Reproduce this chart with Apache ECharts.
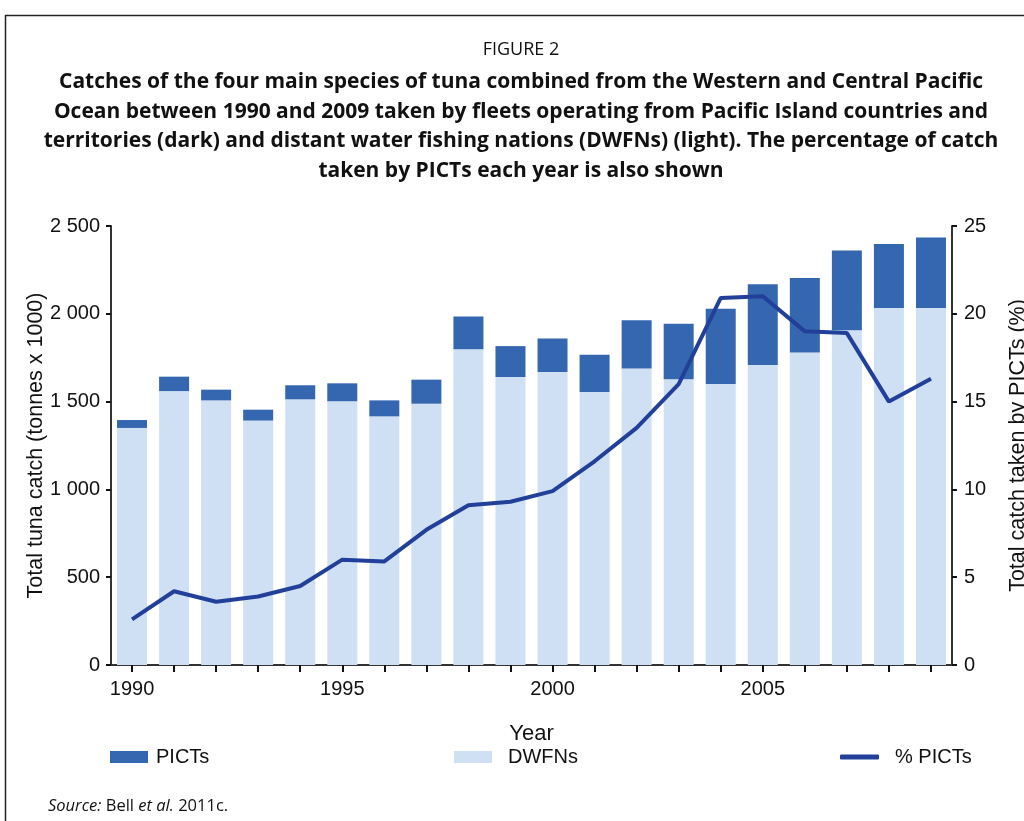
<!DOCTYPE html>
<html>
<head>
<meta charset="utf-8">
<script src="https://cdn.jsdelivr.net/npm/echarts@6/dist/echarts.min.js"></script>
<style>html,body{margin:0;padding:0;background:#fff}#c{width:1024px;height:821px}</style>
</head>
<body>
<div id="c"></div>
<script>
var years = ['1990','1991','1992','1993','1994','1995','1996','1997','1998','1999','2000','2001','2002','2003','2004','2005','2006','2007','2008','2009'];
var dwfns = [1350,1560,1507,1392,1513,1502,1416,1488,1798,1640,1668,1554,1688,1627,1600,1708,1779,1906,2033,2033];
var picts = [45,82,61,62,80,102,91,137,187,176,192,213,275,317,429,460,425,455,364,401];
var pctPicts = [2.6,4.2,3.6,3.9,4.5,6.0,5.9,7.7,9.1,9.3,9.9,11.6,13.5,16.0,20.9,21.0,19.0,18.9,15.0,16.3];
var leftTicks = ['0','500','1 000','1 500','2 000','2 500'];
var titleLines = [
  'Catches of the four main species of tuna combined from the Western and Central Pacific',
  'Ocean between 1990 and 2009 taken by fleets operating from Pacific Island countries and',
  'territories (dark) and distant water fishing nations (DWFNs) (light). The percentage of catch',
  'taken by PICTs each year is also shown'
];

var DARK = '#3567B0', LIGHT = '#CFE0F4', LINE = '#22409A', AX = '#333';
var SANS = '"Liberation Sans", Arial, sans-serif';
var TFONT = '"Open Sans", Lato, sans-serif';

var chart = echarts.init(document.getElementById('c'), null, {renderer: 'canvas'});

var graphics = [
  {type: 'polyline', silent: true, shape: {points: [[5.5, 821], [5.5, 15.5], [1024, 15.5]]}, style: {stroke: '#222', lineWidth: 1.5, fill: null}},
  {type: 'text', x: 521, y: 50, style: {text: 'FIGURE 2', font: '18px ' + TFONT, fill: '#111', textAlign: 'center', textVerticalAlign: 'middle'}},
  {type: 'text', x: 48, y: 806, style: {text: '{i|Source:} Bell {i|et al.} 2011c.', font: '16.5px ' + TFONT, fill: '#111', textAlign: 'left', textVerticalAlign: 'middle', rich: {i: {fontStyle: 'italic', font: 'italic 16.5px ' + TFONT}}}}
];
titleLines.forEach(function (t, i) {
  graphics.push({type: 'text', x: 521, y: 82 + i * 29.7, style: {text: t, font: 'bold 21px ' + TFONT, fill: '#111', textAlign: 'center', textVerticalAlign: 'middle'}});
});

var legendCommon = {itemWidth: 38, itemHeight: 12, selectedMode: false};
function lt(pad) { return {fontFamily: SANS, fontSize: 20, color: '#111', padding: [0, 0, 0, pad]}; }

chart.setOption({
  animation: false,
  backgroundColor: '#fff',
  grid: {left: 111, right: 72, top: 226, bottom: 156, containLabel: false, outerBoundsMode: 'none'},
  graphic: graphics,
  legend: [
    Object.assign({}, legendCommon, {left: 105, top: 742, data: [{name: 'PICTs', icon: 'rect'}], textStyle: lt(3)}),
    Object.assign({}, legendCommon, {left: 449, top: 742, data: [{name: 'DWFNs', icon: 'rect'}], textStyle: lt(11)}),
    Object.assign({}, legendCommon, {left: 835, top: 742, itemWidth: 39, itemHeight: 5, data: [{name: '% PICTs', icon: 'roundRect'}], textStyle: lt(11)})
  ],
  xAxis: {
    type: 'category',
    data: years,
    boundaryGap: true,
    name: 'Year',
    nameLocation: 'middle',
    nameGap: 58,
    nameMoveOverlap: false,
    nameTextStyle: {fontFamily: SANS, fontSize: 22, color: '#111'},
    axisLine: {lineStyle: {color: AX, width: 2}},
    axisTick: {show: true, interval: 0, alignWithLabel: true, length: 7, lineStyle: {color: '#111', width: 2}},
    axisLabel: {interval: 4, margin: 14, fontFamily: SANS, fontSize: 20, color: '#111'},
    splitLine: {show: false}
  },
  yAxis: [
    {
      type: 'value', min: 0, max: 2500, interval: 500,
      name: 'Total tuna catch (tonnes x 1000)',
      nameLocation: 'middle', nameGap: 64, nameRotate: 90, nameMoveOverlap: false,
      nameTextStyle: {fontFamily: SANS, fontSize: 21.5, color: '#111'},
      axisLine: {show: true, lineStyle: {color: AX, width: 2}},
      axisTick: {show: true, length: 5, lineStyle: {color: '#111', width: 2}},
      axisLabel: {margin: 11, fontFamily: SANS, fontSize: 20, color: '#111', formatter: function (v) { return leftTicks[Math.round(v / 500)]; }},
      splitLine: {show: false}
    },
    {
      type: 'value', min: 0, max: 25, interval: 5, position: 'right',
      name: 'Total catch taken by PICTs (%)',
      nameLocation: 'middle', nameGap: 55, nameRotate: 90, nameMoveOverlap: false,
      nameTextStyle: {fontFamily: SANS, fontSize: 21.5, color: '#111'},
      axisLine: {show: true, lineStyle: {color: AX, width: 2}},
      axisTick: {show: true, length: 5, lineStyle: {color: '#111', width: 2}},
      axisLabel: {margin: 12, fontFamily: SANS, fontSize: 20, color: '#111'},
      splitLine: {show: false}
    }
  ],
  series: [
    {name: 'DWFNs', type: 'bar', stack: 'catch', data: dwfns, barWidth: 30, itemStyle: {color: LIGHT}},
    {name: 'PICTs', type: 'bar', stack: 'catch', data: picts, barWidth: 30, itemStyle: {color: DARK}},
    {name: '% PICTs', type: 'line', yAxisIndex: 1, data: pctPicts, showSymbol: false, symbol: 'none', lineStyle: {color: LINE, width: 4}, itemStyle: {color: LINE}, z: 5}
  ]
});
</script>
</body>
</html>
